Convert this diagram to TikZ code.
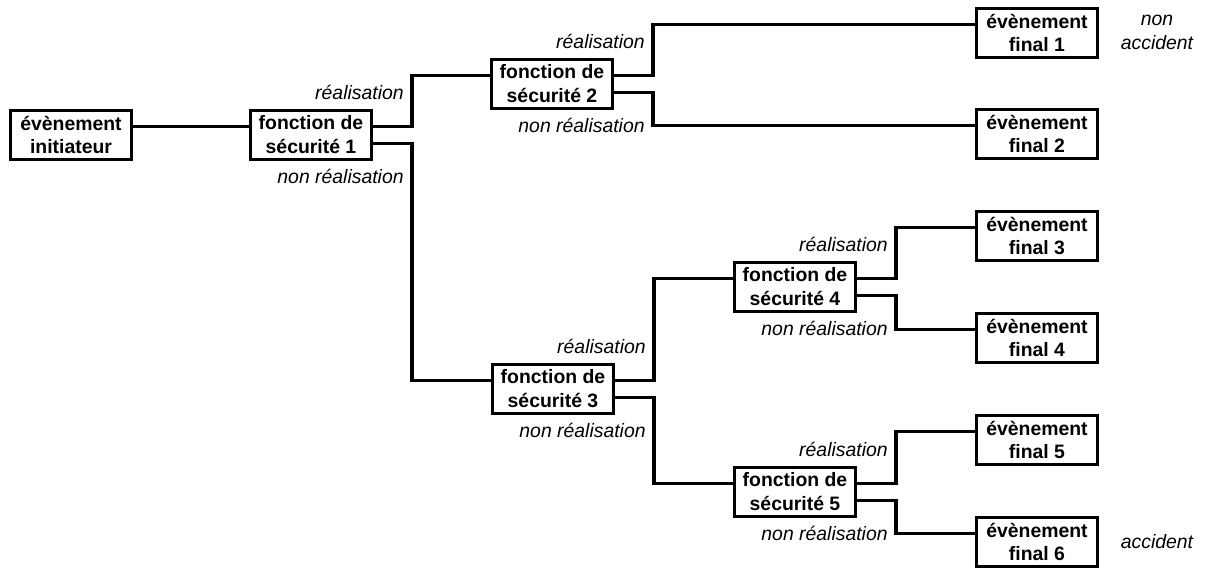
\documentclass[tikz,border=0pt]{standalone}
\usepackage{fontspec}
\setmainfont{Liberation Sans}
\usetikzlibrary{calc}

\tikzset{
  box/.style={draw, line width=2.4pt, minimum width=85.8pt, minimum height=34.6pt, inner sep=0pt, align=center, font=\fontsize{13.8}{17}\selectfont\bfseries},
  lbl/.style={inner sep=0pt, font=\fontsize{13.8}{17}\selectfont\itshape},
  branch/.style={line width=2.4pt},
}

\begin{document}
\begin{tikzpicture}[x=0.025cm,y=-0.025cm]
\useasboundingbox (0,0) rectangle (1205,569);

% initiateur et fonctions de securite
\node[box] (ei) at (71,135) {évènement\\initiateur};
\node[box] (fs1) at (311,135) {fonction de\\sécurité 1};
\node[box] (fs2) at (552,84) {fonction de\\sécurité 2};
\node[box] (fs3) at (553,389) {fonction de\\sécurité 3};
\node[box] (fs4) at (795,287) {fonction de\\sécurité 4};
\node[box] (fs5) at (795,492) {fonction de\\sécurité 5};

% evenements finaux
\node[box] (fe1) at (1037,33) {évènement\\final 1};
\node[box] (fe2) at (1037,134) {évènement\\final 2};
\node[box] (fe3) at (1037,236) {évènement\\final 3};
\node[box] (fe4) at (1037,338) {évènement\\final 4};
\node[box] (fe5) at (1037,440) {évènement\\final 5};
\node[box] (fe6) at (1037,542) {évènement\\final 6};

% branches
\draw[branch] ([yshift=6pt]ei.east) -- ([yshift=6pt]fs1.west);
\draw[branch] ([yshift=6pt]fs1.east) -- ++(39,0) |- ([yshift=6pt]fs2.west);
\draw[branch] ([yshift=-6pt]fs1.east) -- ++(39,0) |- ([yshift=6pt]fs3.west);
\draw[branch] ([yshift=6pt]fs2.east) -- ++(39,0) |- ([yshift=6pt]fe1.west);
\draw[branch] ([yshift=-6pt]fs2.east) -- ++(39,0) |- ([yshift=6pt]fe2.west);
\draw[branch] ([yshift=6pt]fs3.east) -- ++(39,0) |- ([yshift=6pt]fs4.west);
\draw[branch] ([yshift=-6pt]fs3.east) -- ++(39,0) |- ([yshift=6pt]fs5.west);
\draw[branch] ([yshift=6pt]fs4.east) -- ++(39,0) |- ([yshift=6pt]fe3.west);
\draw[branch] ([yshift=-6pt]fs4.east) -- ++(39,0) |- ([yshift=6pt]fe4.west);
\draw[branch] ([yshift=6pt]fs5.east) -- ++(39,0) |- ([yshift=6pt]fe5.west);
\draw[branch] ([yshift=-6pt]fs5.east) -- ++(39,0) |- ([yshift=6pt]fe6.west);

% etiquettes
\node[lbl,anchor=east] (r1) at ([xshift=22pt,yshift=12pt]fs1.north east) {réalisation};
\node[lbl,anchor=east] (n1) at ([xshift=22pt,yshift=-11pt]fs1.south east) {non réalisation};
\node[lbl,anchor=east] (r2) at ([xshift=22pt,yshift=12pt]fs2.north east) {réalisation};
\node[lbl,anchor=east] (n2) at ([xshift=22pt,yshift=-11pt]fs2.south east) {non réalisation};
\node[lbl,anchor=east] (r3) at ([xshift=22pt,yshift=12pt]fs3.north east) {réalisation};
\node[lbl,anchor=east] (n3) at ([xshift=22pt,yshift=-11pt]fs3.south east) {non réalisation};
\node[lbl,anchor=east] (r4) at ([xshift=22pt,yshift=12pt]fs4.north east) {réalisation};
\node[lbl,anchor=east] (n4) at ([xshift=22pt,yshift=-11pt]fs4.south east) {non réalisation};
\node[lbl,anchor=east] (r5) at ([xshift=22pt,yshift=12pt]fs5.north east) {réalisation};
\node[lbl,anchor=east] (n5) at ([xshift=22pt,yshift=-11pt]fs5.south east) {non réalisation};

\node[lbl,align=center] (nacc) at (1157,32) {non\\accident};
\node[lbl] (acc) at (1157,542) {accident};
\end{tikzpicture}
\end{document}
